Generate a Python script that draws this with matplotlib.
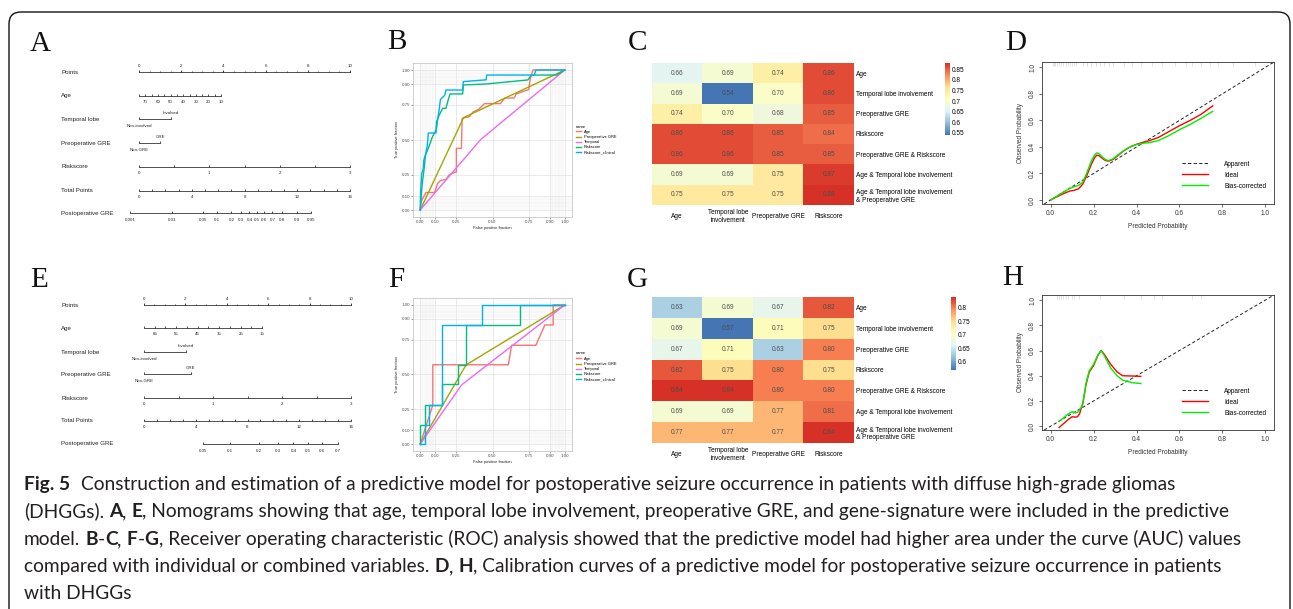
import numpy as np
import matplotlib
matplotlib.use("Agg")
import matplotlib.pyplot as plt
from matplotlib.colors import LinearSegmentedColormap
from matplotlib.patches import FancyBboxPatch
from matplotlib.transforms import IdentityTransform
from matplotlib.lines import Line2D

plt.rcParams['font.family'] = ['Liberation Sans', 'DejaVu Sans']

# ============================ DATA ============================
# ---- Nomograms (A, E) ----
nom_rows = ["Points", "Age", "Temporal lobe", "Preoperative GRE", "Riskscore", "Total Points", "Postoperative GRE"]
points_labels = [0, 2, 4, 6, 8, 10]
riskscore_labels = [0, 1, 2, 3]
total_labels = [0, 4, 8, 12, 16]
temporal_levels = ["Non-involved", "Involved"]
gre_levels = ["Non-GRE", "GRE"]

nomA_age_ticks = [75, 70, 65, 60, 55, 50, 45, 40, 35, 30, 25, 20, 15, 10]
nomA_age_labels = [70, 60, 50, 40, 30, 20, 10]
nomA_age_span = [75, 10]
nomA_age_points = [0.0, 3.89]
nomA_temporal_points = [0.0, 1.52]
nomA_gre_points = [0.0, 1.0]
nomA_prob = [0.001, 0.01, 0.05, 0.1, 0.2, 0.3, 0.4, 0.5, 0.6, 0.7, 0.8, 0.9, 0.95]
nomA_prob_labels = ["0.001", "0.01", "0.05", "0.1", "0.2", "0.3", "0.4", "0.5", "0.6", "0.7", "0.8", "0.9", "0.95"]
nomA_lp = [8.94, 1.393]          # total points = a + b * logit(p)

nomE_age_ticks = [70, 65, 60, 55, 50, 45, 40, 35, 30, 25, 20, 15]
nomE_age_labels = [65, 55, 45, 35, 25, 15]
nomE_age_span = [70, 15]
nomE_age_points = [0.0, 5.71]
nomE_temporal_points = [0.0, 2.03]
nomE_gre_points = [0.0, 2.27]
nomE_prob = [0.05, 0.1, 0.2, 0.3, 0.4, 0.5, 0.6, 0.7]
nomE_prob_labels = ["0.05", "0.1", "0.2", "0.3", "0.4", "0.5", "0.6", "0.7"]
nomE_lp = [12.67, 2.754]

# ---- ROC curves (B, F) ----
roc_names = ["Age", "Preoperative GRE", "Temporal", "Riskscore", "Riskscore_clinical"]
roc_colors = ["#F8766D", "#A3A500", "#E76BF3", "#00BF7D", "#00B0F6"]

B_age_fpf = [0, 0.005, 0.04, 0.10, 0.12, 0.14, 0.18, 0.20, 0.24, 0.25, 0.25, 0.285, 0.29, 0.34, 0.365, 0.405, 0.445, 0.555, 0.585, 0.65, 0.665, 0.75, 0.76, 0.78, 1.0]
B_age_tpf = [0, 0.06, 0.125, 0.125, 0.19, 0.21, 0.22, 0.25, 0.27, 0.27, 0.44, 0.44, 0.655, 0.667, 0.70, 0.72, 0.76, 0.76, 0.80, 0.80, 0.83, 0.86, 0.93, 1.0, 1.0]
B_gre_fpf = [0, 0.30, 1.0]
B_gre_tpf = [0, 0.66, 1.0]
B_temp_fpf = [0, 0.42, 1.0]
B_temp_tpf = [0, 0.505, 1.0]
B_risk_fpf = [0, 0.005, 0.01, 0.014, 0.026, 0.037, 0.06, 0.085, 0.109, 0.113, 0.132, 0.155, 0.178, 0.19, 0.206, 0.294, 0.298, 0.456, 0.745, 0.768, 0.942, 1.0]
B_risk_tpf = [0, 0.06, 0.143, 0.19, 0.286, 0.393, 0.452, 0.524, 0.571, 0.631, 0.679, 0.726, 0.726, 0.774, 0.829, 0.829, 0.893, 0.90, 0.929, 0.964, 0.964, 1.0]
B_clin_fpf = [0, 0.002, 0.005, 0.01, 0.02, 0.025, 0.037, 0.049, 0.056, 0.109, 0.12, 0.13, 0.14, 0.17, 0.178, 0.294, 0.298, 0.456, 0.46, 0.79, 0.80, 1.0]
B_clin_tpf = [0, 0.12, 0.17, 0.26, 0.29, 0.357, 0.40, 0.46, 0.55, 0.55, 0.64, 0.71, 0.79, 0.82, 0.857, 0.857, 0.917, 0.93, 0.964, 0.964, 1.0, 1.0]

F_age_fpf = [0, 0.087, 0.087, 0.61, 0.632, 0.80, 0.862, 0.92, 0.92, 1.0]
F_age_tpf = [0, 0.28, 0.57, 0.57, 0.71, 0.71, 0.856, 0.856, 1.0, 1.0]
F_gre_fpf = [0, 0.317, 1.0]
F_gre_tpf = [0, 0.569, 1.0]
F_temp_fpf = [0, 0.287, 1.0]
F_temp_tpf = [0, 0.426, 1.0]
F_risk_fpf = [0, 0, 0.03, 0.03, 0.15, 0.15, 0.264, 0.264, 0.32, 0.32, 0.69, 0.69, 1.0]
F_risk_tpf = [0, 0.14, 0.14, 0.28, 0.28, 0.43, 0.43, 0.57, 0.57, 0.857, 0.857, 1.0, 1.0]
F_clin_fpf = [0, 0.03, 0.03, 0.062, 0.062, 0.15, 0.15, 0.43, 0.43, 1.0]
F_clin_tpf = [0, 0, 0.14, 0.14, 0.28, 0.28, 0.857, 0.857, 1.0, 1.0]

# ---- AUC heatmaps (C, G) ----
heat_cols = ["Age", "Temporal lobe\ninvolvement", "Preoperative GRE", "Riskscore"]
heat_rows = ["Age", "Temporal lobe involvement", "Preoperative GRE", "Riskscore",
             "Preoperative GRE & Riskscore", "Age & Temporal lobe involvement",
             "Age & Temporal lobe involvement\n& Preoperative GRE"]
C_auc = [[0.66, 0.69, 0.74, 0.86],
         [0.69, 0.54, 0.70, 0.86],
         [0.74, 0.70, 0.68, 0.85],
         [0.86, 0.86, 0.85, 0.84],
         [0.86, 0.86, 0.85, 0.85],
         [0.69, 0.69, 0.75, 0.87],
         [0.75, 0.75, 0.75, 0.88]]
G_auc = [[0.63, 0.69, 0.67, 0.82],
         [0.69, 0.57, 0.71, 0.75],
         [0.67, 0.71, 0.63, 0.80],
         [0.82, 0.75, 0.80, 0.75],
         [0.84, 0.84, 0.80, 0.80],
         [0.69, 0.69, 0.77, 0.81],
         [0.77, 0.77, 0.77, 0.84]]
C_cbar_ticks = [0.55, 0.6, 0.65, 0.7, 0.75, 0.8, 0.85]
C_cbar_labels = ["0.55", "0.6", "0.65", "0.7", "0.75", "0.8", "0.85"]
G_cbar_ticks = [0.6, 0.65, 0.7, 0.75, 0.8]
G_cbar_labels = ["0.6", "0.65", "0.7", "0.75", "0.8"]

# ---- Calibration curves (D, H) ----
D_ideal_x = [0.0, 0.03, 0.06, 0.09, 0.11, 0.13, 0.15, 0.17, 0.19, 0.205, 0.215, 0.225, 0.24, 0.255, 0.27, 0.29, 0.31, 0.34, 0.37, 0.40, 0.43, 0.46, 0.50, 0.55, 0.60, 0.65, 0.70, 0.755]
D_ideal_y = [0.0, 0.025, 0.048, 0.068, 0.073, 0.085, 0.12, 0.19, 0.27, 0.32, 0.338, 0.335, 0.315, 0.298, 0.293, 0.305, 0.33, 0.37, 0.40, 0.42, 0.435, 0.447, 0.47, 0.515, 0.56, 0.60, 0.645, 0.71]
D_bias_x = [0.0, 0.03, 0.06, 0.09, 0.11, 0.13, 0.15, 0.17, 0.19, 0.205, 0.215, 0.225, 0.24, 0.255, 0.27, 0.29, 0.31, 0.34, 0.37, 0.40, 0.43, 0.46, 0.50, 0.55, 0.60, 0.65, 0.70, 0.755]
D_bias_y = [0.0, 0.03, 0.06, 0.088, 0.10, 0.11, 0.135, 0.21, 0.295, 0.34, 0.355, 0.35, 0.325, 0.305, 0.297, 0.31, 0.335, 0.372, 0.40, 0.418, 0.428, 0.432, 0.447, 0.485, 0.53, 0.57, 0.615, 0.668]
D_rug = [0.01, 0.015, 0.02, 0.03, 0.04, 0.05, 0.06, 0.07, 0.08, 0.09, 0.10, 0.11, 0.12, 0.15, 0.17, 0.19, 0.21,
         0.23, 0.25, 0.27, 0.29, 0.34, 0.38, 0.42, 0.47, 0.52, 0.58, 0.63, 0.66, 0.70, 0.74, 0.78, 0.85, 0.95]

H_ideal_x = [0.04, 0.06, 0.08, 0.10, 0.115, 0.125, 0.135, 0.15, 0.165, 0.18, 0.20, 0.22, 0.235, 0.25, 0.28, 0.31, 0.335, 0.38, 0.42]
H_ideal_y = [-0.01, 0.02, 0.05, 0.075, 0.072, 0.075, 0.10, 0.18, 0.33, 0.43, 0.48, 0.56, 0.60, 0.57, 0.49, 0.43, 0.40, 0.398, 0.395]
H_bias_x = [0.04, 0.06, 0.08, 0.10, 0.115, 0.125, 0.14, 0.15, 0.165, 0.18, 0.20, 0.22, 0.235, 0.25, 0.28, 0.31, 0.335, 0.38, 0.42]
H_bias_y = [0.04, 0.065, 0.095, 0.115, 0.105, 0.11, 0.14, 0.18, 0.34, 0.44, 0.49, 0.565, 0.60, 0.56, 0.46, 0.40, 0.365, 0.345, 0.338]
H_rug = [0.03, 0.04, 0.05, 0.06, 0.07, 0.08, 0.10, 0.11, 0.13, 0.23, 0.34, 0.42, 0.48, 0.52, 0.66, 0.70]

# ---- Caption ----
cap_lines = [
    [("Fig. 5", True, 0), ("Construction and estimation of a predictive model for postoperative seizure occurrence in patients with diffuse high-grade gliomas", False, 2.2)],
    [("(DHGGs).", False, 0), ("A", True, 1), (",", False, 0), ("E", True, 1),
     (", Nomograms showing that age, temporal lobe involvement, preoperative GRE, and gene-signature were included in the predictive", False, 0)],
    [("model.", False, 0), ("B", True, 1), ("-", False, 0), ("C", True, 0), (",", False, 0), ("F", True, 1), ("-", False, 0), ("G", True, 0),
     (", Receiver operating characteristic (ROC) analysis showed that the predictive model had higher area under the curve (AUC) values", False, 0)],
    [("compared with individual or combined variables.", False, 0), ("D", True, 1), (",", False, 0), ("H", True, 1),
     (", Calibration curves of a predictive model for postoperative seizure occurrence in patients", False, 0)],
    [("with DHGGs", False, 0)],
]

# ============================ LAYOUT HELPERS ============================
W, H = 1293, 609
fig = plt.figure(figsize=(W / 100, H / 100), dpi=100)
fig.patch.set_facecolor("white")


def add_ax(l, t, r, b):
    return fig.add_axes([l / W, 1 - b / H, (r - l) / W, (b - t) / H])


def ftext(x, y, s, **kw):
    return fig.text(x / W, 1 - y / H, s, **kw)


LC = "#222222"
SERIF = ["Liberation Serif", "DejaVu Serif"]

# panel letters
for letter, (lx, ly) in zip("ABCDEFGH", [(30, 51), (387, 49), (628, 50), (1005, 50),
                                        (30, 287), (388, 287), (627, 287), (1002, 285)]):
    ftext(lx, ly, letter, fontsize=21, family=SERIF, ha="left", va="baseline", color="#111111")


# ============================ NOMOGRAM ============================
def logit(p):
    p = np.asarray(p, float)
    return np.log(p / (1 - p))


def nomogram(box, x0px, pxpp, ys, age_ticks, age_labels, age_span, age_pts, temp_pts, gre_pts,
             probs, prob_labels, lp, label_px=61):
    l, t, r, b = box
    ax = add_ax(l, t, r, b)
    ax.set_xlim((l - x0px) / pxpp, (r - x0px) / pxpp)
    ax.set_ylim(b, t)
    ax.axis("off")
    lab_x = (label_px - x0px) / pxpp
    fs_lab, fs_tick = 4.4, 3.2
    kw = dict(color=LC, lw=0.55)
    for name, y in zip(nom_rows, ys):
        ax.text(lab_x, y, name, fontsize=fs_lab, ha="left", va="center", color=LC)

    def age2pts(a):
        a = np.asarray(a, float)
        return age_pts[0] + (a - age_span[0]) * (age_pts[1] - age_pts[0]) / (age_span[1] - age_span[0])

    # Points
    y = ys[0]
    ax.plot([0, 10], [y, y], **kw)
    ax.vlines(np.arange(0, 10.01, 0.5), y - 1.3, y, **kw)
    ax.vlines(points_labels, y - 2.2, y, **kw)
    for v in points_labels:
        ax.text(v, y - 6, str(v), fontsize=fs_tick, ha="center", va="center", color=LC)
    # Age
    y = ys[1]
    xa = age2pts(age_ticks)
    ax.plot([xa.min(), xa.max()], [y, y], **kw)
    ax.vlines(xa, y - 1.8, y, **kw)
    for v in age_labels:
        ax.text(age2pts(v), y + 6, str(v), fontsize=fs_tick, ha="center", va="center", color=LC)
    # Temporal lobe
    y = ys[2]
    ax.plot(temp_pts, [y, y], **kw)
    ax.vlines(temp_pts, y - 1.8, y, **kw)
    ax.text(temp_pts[1], y - 6, temporal_levels[1], fontsize=fs_tick, ha="center", va="center", color=LC)
    ax.text(temp_pts[0], y + 7, temporal_levels[0], fontsize=fs_tick, ha="center", va="center", color=LC)
    # Preoperative GRE
    y = ys[3]
    ax.plot(gre_pts, [y, y], **kw)
    ax.vlines(gre_pts, y - 1.8, y, **kw)
    ax.text(gre_pts[1], y - 6, gre_levels[1], fontsize=fs_tick, ha="center", va="center", color=LC)
    ax.text(gre_pts[0], y + 7, gre_levels[0], fontsize=fs_tick, ha="center", va="center", color=LC)
    # Riskscore (0..3 -> 0..10 points)
    y = ys[4]
    rs = np.arange(0, 3.01, 0.5)
    ax.plot([0, 10], [y, y], **kw)
    ax.vlines(rs * 10 / 3, y - 1.8, y, **kw)
    for v in riskscore_labels:
        ax.text(v * 10 / 3, y + 6, str(v), fontsize=fs_tick, ha="center", va="center", color=LC)
    # Total points (0..16 -> 0..10)
    y = ys[5]
    tp = np.arange(0, 16.01, 1)
    ax.plot([0, 10], [y, y], **kw)
    ax.vlines(tp * 10 / 16, y - 1.8, y, **kw)
    for v in total_labels:
        ax.text(v * 10 / 16, y + 6, str(v), fontsize=fs_tick, ha="center", va="center", color=LC)
    # Postoperative GRE probability
    y = ys[6]
    xp = (lp[0] + lp[1] * logit(probs)) * 10 / 16
    ax.plot([xp.min(), xp.max()], [y, y], **kw)
    ax.vlines(xp, y - 1.8, y, **kw)
    for xv, s in zip(xp, prob_labels):
        ax.text(xv, y + 7, s, fontsize=fs_tick, ha="center", va="center", color=LC)


nomogram((50, 55, 378, 235), 139, 21.1, [72, 96, 119, 143, 167, 191, 213],
         nomA_age_ticks, nomA_age_labels, nomA_age_span, nomA_age_points,
         nomA_temporal_points, nomA_gre_points, nomA_prob, nomA_prob_labels, nomA_lp)
nomogram((50, 290, 378, 462), 144, 20.7, [305, 328, 352, 374, 398, 421, 444],
         nomE_age_ticks, nomE_age_labels, nomE_age_span, nomE_age_points,
         nomE_temporal_points, nomE_gre_points, nomE_prob, nomE_prob_labels, nomE_lp)


# ============================ ROC ============================
def roc(box, curves, leg_top):
    ax = add_ax(*box)
    ax.set_xlim(-0.05, 1.05)
    ax.set_ylim(-0.05, 1.05)
    major = [0, 0.1, 0.25, 0.5, 0.75, 0.9, 1.0]
    major_lab = ["0.00", "0.10", "0.25", "0.50", "0.75", "0.90", "1.00"]
    minor = [round(v, 2) for v in list(np.arange(0.01, 0.1, 0.01)) + list(np.arange(0.91, 1.0, 0.01))]
    ax.set_xticks(major, major_lab)
    ax.set_yticks(major, major_lab)
    ax.set_xticks(minor, minor=True)
    ax.set_yticks(minor, minor=True)
    ax.grid(True, which="major", color="#e2e2e2", lw=0.5)
    ax.grid(True, which="minor", color="#eeeeee", lw=0.35)
    ax.set_axisbelow(True)
    ax.tick_params(which="minor", length=0)
    ax.tick_params(which="major", length=1.4, width=0.4, color="#555555", labelsize=3.2,
                   labelcolor="#4d4d4d", pad=0.8)
    for s in ax.spines.values():
        s.set_color("#c8c8c8")
        s.set_linewidth(0.6)
    handles = []
    for (fx, ty), name, c in zip(curves, roc_names, roc_colors):
        h, = ax.plot(fx, ty, color=c, lw=1.0, label=name)
        handles.append(h)
    ax.set_xlabel("False positive fraction", fontsize=2.9, labelpad=1.2, color="#222222")
    ax.set_ylabel("True positive fraction", fontsize=2.9, labelpad=1.5, color="#222222")
    fig.legend(handles, roc_names, loc="upper left", bbox_to_anchor=(576 / W, 1 - leg_top / H),
               frameon=False, fontsize=2.9, title="name", title_fontsize=2.9, borderpad=0,
               borderaxespad=0, alignment="left", handlelength=1.3, handletextpad=0.6,
               labelspacing=0.3)


roc((413, 63, 572, 217), [(B_age_fpf, B_age_tpf), (B_gre_fpf, B_gre_tpf), (B_temp_fpf, B_temp_tpf),
                          (B_risk_fpf, B_risk_tpf), (B_clin_fpf, B_clin_tpf)], 124.5)
roc((413, 298, 572, 451), [(F_age_fpf, F_age_tpf), (F_gre_fpf, F_gre_tpf), (F_temp_fpf, F_temp_tpf),
                           (F_risk_fpf, F_risk_tpf), (F_clin_fpf, F_clin_tpf)], 351.5)

# ============================ HEATMAPS ============================
heat_cmap = LinearSegmentedColormap.from_list(
    "pheat", ["#4575B4", "#91BFDB", "#E0F3F8", "#FFFFBF", "#FEE090", "#FC8D59", "#D73027"], N=100)


def heat(box, vals, cbox, cticks, clabels):
    ax = add_ax(*box)
    arr = np.array(vals)
    im = ax.imshow(arr, cmap=heat_cmap, vmin=arr.min(), vmax=arr.max(), aspect="auto",
                   interpolation="nearest")
    for i in range(arr.shape[0]):
        for j in range(arr.shape[1]):
            ax.text(j, i, f"{arr[i, j]:.2f}", ha="center", va="center", fontsize=4.7, color="#4d4d4d")
    ax.set_xticks(range(len(heat_cols)))
    ax.set_xticklabels(heat_cols, fontsize=4.7, va="center", linespacing=1.15)
    ax.tick_params(axis="x", length=0, pad=8.4)
    ax.yaxis.tick_right()
    ax.set_yticks(range(len(heat_rows)))
    ax.set_yticklabels(heat_rows, fontsize=4.7, linespacing=1.15)
    ax.tick_params(axis="y", length=0, pad=1.4)
    for s in ax.spines.values():
        s.set_visible(False)
    cax = add_ax(*cbox)
    cb = fig.colorbar(im, cax=cax, ticks=cticks)
    cb.ax.set_yticklabels(clabels)
    cb.outline.set_visible(False)
    cb.ax.tick_params(length=0, labelsize=4.7, pad=1.5)


heat((652, 63, 854, 205), C_auc, (945, 63, 950, 135), C_cbar_ticks, C_cbar_labels)
heat((652, 297, 854, 443), G_auc, (951, 297, 956, 370), G_cbar_ticks, G_cbar_labels)


# ============================ CALIBRATION ============================
def calib(box, rx, ry, gx, gy, rug, leg_y):
    ax = add_ax(*box)
    ax.set_xlim(-0.04, 1.04)
    ax.set_ylim(-0.03, 1.04)
    ax.axline((0, 0), (1, 1), color="#222222", lw=0.7, ls=(0, (3.4, 2.3)), label="Apparent")
    ax.plot(rx, ry, color="#FF0000", lw=1.0, label="Ideal")
    ax.plot(gx, gy, color="#00EE00", lw=1.0, label="Bias-corrected")
    ax.vlines(rug, 1.012, 1.04, color="#cccccc", lw=0.4)
    ticks = np.round(np.arange(0, 1.01, 0.2), 1)
    labs = [f"{v:.1f}" for v in ticks]
    ax.set_xticks(ticks, labs)
    ax.set_yticks(ticks, labs)
    for tl in ax.get_yticklabels():
        tl.set_rotation(90)
        tl.set_va("center")
    ax.tick_params(length=2.2, width=0.5, labelsize=4.7, pad=2.0, color="#333333", labelcolor="#333333")
    for s in ax.spines.values():
        s.set_linewidth(0.6)
        s.set_color("#333333")
    ax.set_xlabel("Predicted Probability", fontsize=4.7, labelpad=4.6, color="#333333")
    ax.set_ylabel("Observed Probability", fontsize=4.7, labelpad=3.5, color="#333333")
    ax.legend(loc="upper left", bbox_to_anchor=(0.603, leg_y), frameon=False, fontsize=4.7,
              handlelength=4.0, handletextpad=2.5, labelspacing=0.6, borderpad=0, borderaxespad=0)


calib((1042, 62, 1274, 204), D_ideal_x, D_ideal_y, D_bias_x, D_bias_y, D_rug, 0.305)
calib((1042, 295, 1274, 430), H_ideal_x, H_ideal_y, H_bias_x, H_bias_y, H_rug, 0.313)

# ============================ CAPTION ============================
CAP_FAMILY = ["Lato", "DejaVu Sans"]
CAP_COLOR = "#231F20"
cap_x0 = 24
cap_baselines = [490, 517, 545, 572, 599]
cap_target = 1226  # width of line 3 in px

renderer = fig.canvas.get_renderer()


def layout_caption(size, draw=True):
    arts, widths = [], []
    tmp1 = ftext(0, 0, "x x", fontsize=size, family=CAP_FAMILY)
    tmp2 = ftext(0, 0, "xx", fontsize=size, family=CAP_FAMILY)
    sp = tmp1.get_window_extent(renderer).width - tmp2.get_window_extent(renderer).width
    tmp1.remove(); tmp2.remove()
    for line, yb in zip(cap_lines, cap_baselines):
        x = cap_x0
        for seg, bold, gap in line:
            x += gap * sp
            t = ftext(x, yb, seg, fontsize=size, family=CAP_FAMILY,
                      fontweight="bold" if bold else "normal", ha="left", va="baseline", color=CAP_COLOR)
            x += t.get_window_extent(renderer).width
            arts.append(t)
        widths.append(x - cap_x0)
    if not draw:
        for a in arts:
            a.remove()
    return widths


w0 = layout_caption(14, draw=False)
cap_size = 14 * cap_target / w0[2]
layout_caption(cap_size)

# ============================ FRAME ============================
frame = FancyBboxPatch((9, -40), 1290 - 9, (H - 12) + 40, boxstyle="round,pad=0,rounding_size=12",
                       transform=IdentityTransform(), fill=False, ec="#111111", lw=1.0)
fig.patches.append(frame)

fig.savefig("out.png", dpi=100, facecolor="white")
